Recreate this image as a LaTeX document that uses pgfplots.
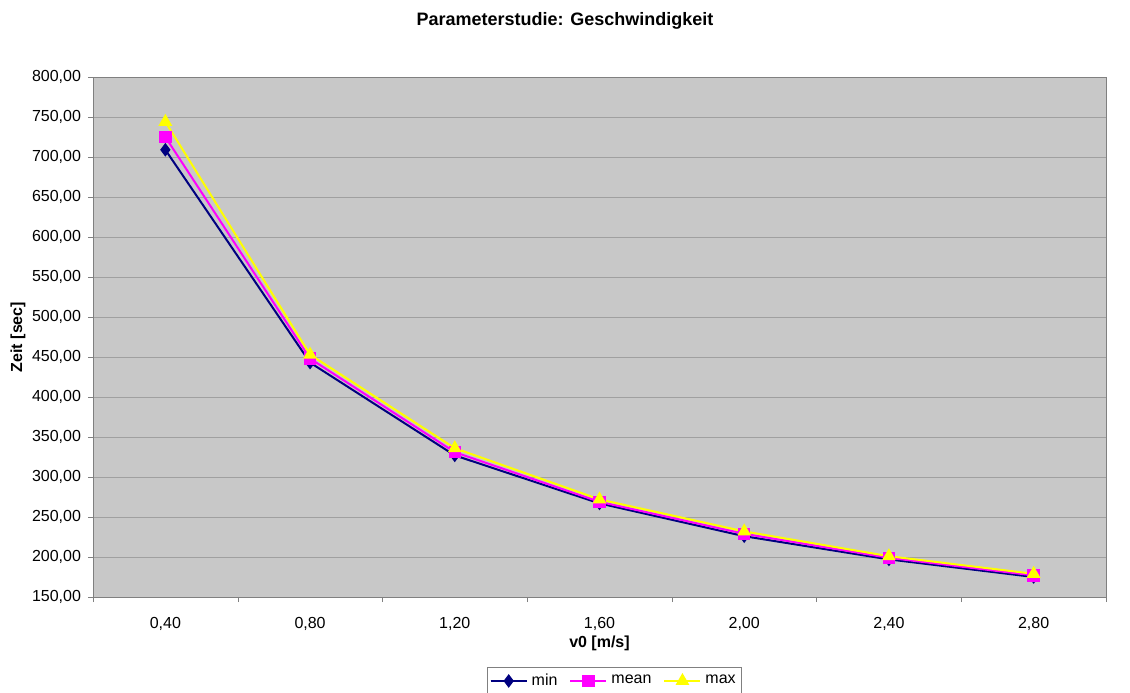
\documentclass[border=0pt]{standalone}
\usepackage{fontspec}
\setmainfont{Liberation Sans}
\usepackage{pgfplots}
\pgfplotsset{compat=1.18}

\definecolor{plotbg}{RGB}{200,200,200}
\definecolor{gridc}{RGB}{160,160,160}
\definecolor{axc}{RGB}{128,128,128}
\definecolor{cmin}{RGB}{0,0,128}
\definecolor{cmean}{RGB}{255,0,255}
\definecolor{cmax}{RGB}{255,255,0}

\begin{document}
\begin{tikzpicture}
\useasboundingbox (0,0) rectangle (565bp,346.5bp);
\begin{axis}[
	at={(46.5bp,48bp)}, anchor=south west,
	scale only axis,
	width=506.5bp, height=260bp,
	font=\fontsize{8bp}{9.6bp}\selectfont,
	axis background/.style={fill=plotbg},
	axis line style={axc},
	xmin=-0.5, xmax=6.5,
	ymin=150, ymax=800,
	ytick={150,200,...,800},
	xtick={0,...,6},
	xticklabels={{0,40},{0,80},{1,20},{1,60},{2,00},{2,40},{2,80}},
	minor xtick={-0.5,0.5,...,6.5},
	xtick pos=bottom, ytick pos=left,
	x tick style={draw=none},
	minor x tick style={draw=axc},
	y tick style={draw=axc},
	tick align=outside,
	major tick length=2.5bp,
	minor tick length=2.5bp,
	ymajorgrids,
	major grid style={gridc, line width=0.5bp},
	xticklabel style={yshift=-4bp},
	yticklabel style={/pgf/number format/.cd, fixed, fixed zerofill, precision=2, use comma, 1000 sep={}, assume math mode=true},
	every axis title shift=0pt,
	title={\bfseries Parameterstudie: Geschwindigkeit},
	title style={at={(0.466,1)}, anchor=center, yshift=28bp, font=\fontsize{9bp}{10.8bp}\selectfont},
	xlabel={\bfseries v0 [m/s]},
	xlabel style={at={(axis description cs:0.5,-0.09)}, anchor=center},
	ylabel={\bfseries Zeit [sec]},
	ylabel style={at={(axis description cs:-0.074,0.5)}, anchor=center, rotate=0},
	legend columns=3,
	legend style={at={(axis description cs:0.515,-0.1615)}, anchor=center, draw=axc, fill=white,
		font=\fontsize{8bp}{9.6bp}\selectfont, inner sep=1bp,
		/tikz/every even column/.append style={column sep=4bp}},
	legend image code/.code={
		\draw[#1] (0bp,0bp) -- (18bp,0bp);
		\draw[#1, mark repeat=2, mark phase=2] plot coordinates {(0bp,0bp) (9bp,0bp) (18bp,0bp)};
	},
]
\addplot[cmin, line width=1bp, mark=diamond*, mark size=2.6bp] coordinates {
	(0,709) (1,443) (2,327) (3,267) (4,226) (5,197) (6,175)};
\addplot[cmean, line width=1bp, mark=square*, mark size=2.6bp] coordinates {
	(0,725) (1,448) (2,331) (3,269) (4,229) (5,199) (6,177)};
\addplot[cmax, line width=1bp, mark=triangle*, mark size=3bp] coordinates {
	(0,744) (1,453) (2,336) (3,272) (4,232) (5,201) (6,179)};
\legend{min,mean,max}
\end{axis}
\end{tikzpicture}
\end{document}
